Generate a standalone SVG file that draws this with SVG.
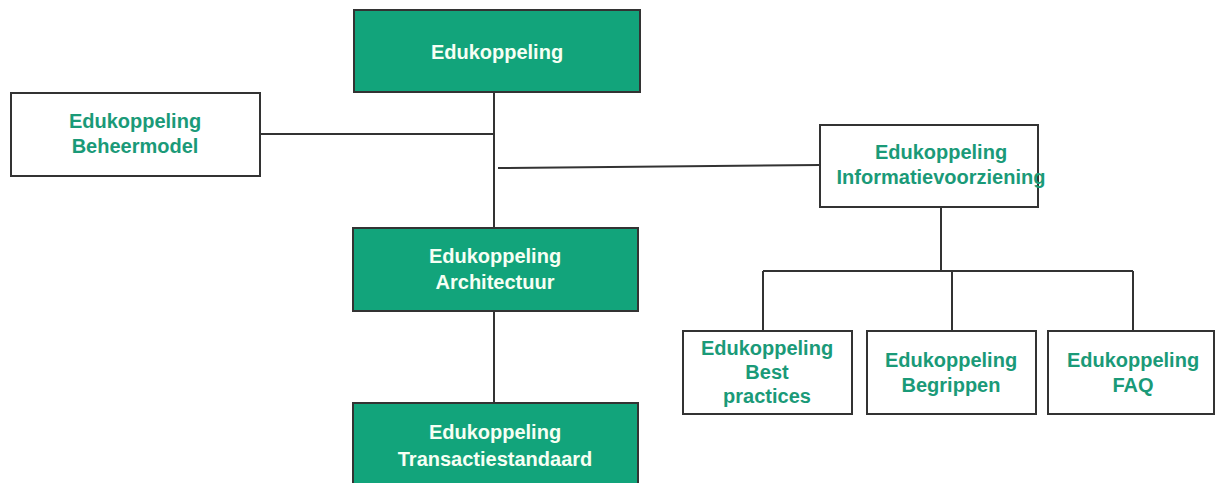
<svg xmlns="http://www.w3.org/2000/svg" width="1215" height="483" viewBox="0 0 1215 483">
<style>
.g{fill:#12a47b;stroke:#333;stroke-width:2}
.w{fill:#fff;stroke:#333;stroke-width:2}
text{font-family:"Liberation Sans",Arial,sans-serif;font-weight:bold;font-size:20px;text-anchor:middle}
.tw{fill:#f6fff4}
.tg{fill:#1a9a78}
.c{stroke:#333;stroke-width:2;fill:none}
</style>
<rect width="1215" height="483" fill="#fff"/>
<g id="connectors">
<line class="c" x1="494" y1="92" x2="494" y2="228"/>
<line class="c" x1="260" y1="134" x2="494" y2="134"/>
<line class="c" x1="498" y1="168" x2="820" y2="165" stroke="#555"/>
<line class="c" x1="494" y1="311" x2="494" y2="403"/>
<line class="c" x1="941" y1="207" x2="941" y2="271"/>
<line class="c" x1="763" y1="271" x2="1133" y2="271"/>
<line class="c" x1="763" y1="271" x2="763" y2="331"/>
<line class="c" x1="952" y1="271" x2="952" y2="331"/>
<line class="c" x1="1133" y1="271" x2="1133" y2="331"/>
</g>
<g id="n-edukoppeling">
<rect class="g" x="354" y="10" width="286" height="82"/>
<text class="tw" x="497" y="59">Edukoppeling</text>
</g>
<g id="n-beheermodel">
<rect class="w" x="11" y="93" width="249" height="83"/>
<text class="tg" x="135" y="128">Edukoppeling</text>
<text class="tg" x="135" y="153">Beheermodel</text>
</g>
<g id="n-informatievoorziening">
<rect class="w" x="820" y="125" width="218" height="82"/>
<text class="tg" x="941" y="159">Edukoppeling</text>
<text class="tg" x="941" y="184">Informatievoorziening</text>
</g>
<g id="n-architectuur">
<rect class="g" x="353" y="228" width="285" height="83"/>
<text class="tw" x="495" y="263">Edukoppeling</text>
<text class="tw" x="495" y="289">Architectuur</text>
</g>
<g id="n-transactiestandaard">
<rect class="g" x="353" y="403" width="285" height="90"/>
<text class="tw" x="495" y="439">Edukoppeling</text>
<text class="tw" x="495" y="466">Transactiestandaard</text>
</g>
<g id="n-bestpractices">
<rect class="w" x="683" y="331" width="169" height="83"/>
<text class="tg" x="767" y="355">Edukoppeling</text>
<text class="tg" x="767" y="379">Best</text>
<text class="tg" x="767" y="403">practices</text>
</g>
<g id="n-begrippen">
<rect class="w" x="867" y="331" width="169" height="83"/>
<text class="tg" x="951" y="367">Edukoppeling</text>
<text class="tg" x="951" y="392">Begrippen</text>
</g>
<g id="n-faq">
<rect class="w" x="1048" y="331" width="166" height="83"/>
<text class="tg" x="1133" y="367">Edukoppeling</text>
<text class="tg" x="1133" y="392">FAQ</text>
</g>
</svg>
